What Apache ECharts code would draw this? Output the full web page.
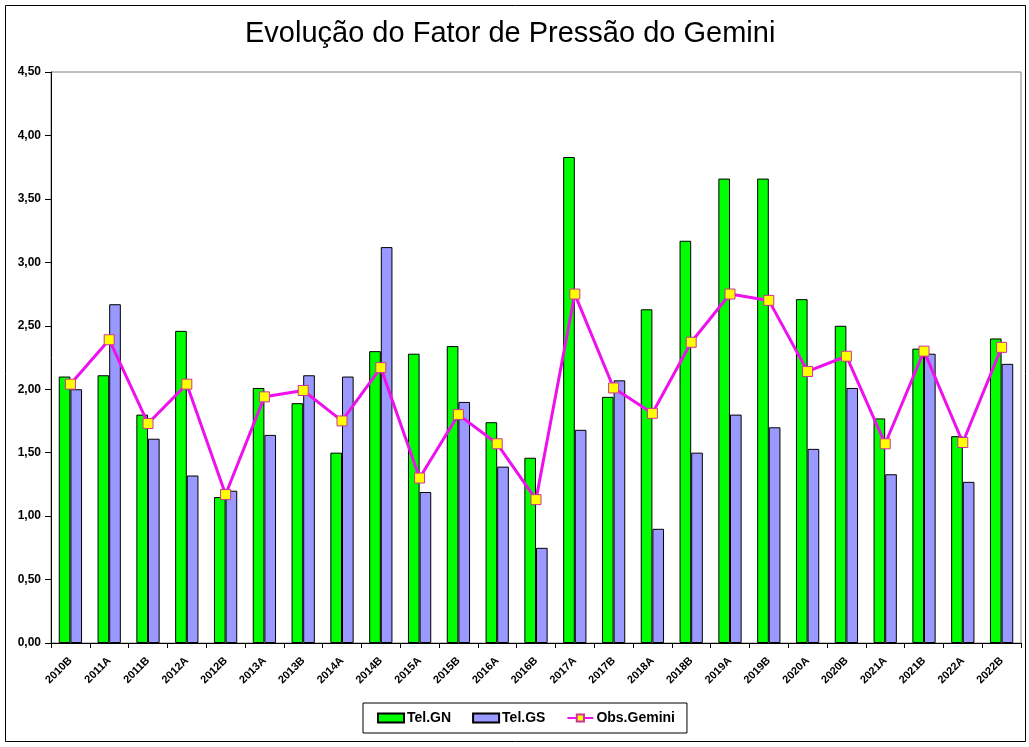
<!DOCTYPE html>
<html>
<head>
<meta charset="utf-8">
<title>Fator de Pressão do Gemini</title>
<script src="https://cdn.jsdelivr.net/npm/echarts@6/dist/echarts.min.js"></script>
<style>
    html, body { margin: 0; padding: 0; background: #fff; }
    #chart { width: 1029px; height: 747px; }
</style>
</head>
<body>
<div id="chart"></div>
<script>
    // semestres
    var semestres = ['2010B', '2011A', '2011B', '2012A', '2012B', '2013A', '2013B', '2014A', '2014B',
        '2015A', '2015B', '2016A', '2016B', '2017A', '2017B', '2018A', '2018B', '2019A', '2019B',
        '2020A', '2020B', '2021A', '2021B', '2022A', '2022B'];
    var telGN = [2.10, 2.11, 1.80, 2.46, 1.15, 2.01, 1.89, 1.50, 2.30,
        2.28, 2.34, 1.74, 1.46, 3.83, 1.94, 2.63, 3.17, 3.66, 3.66,
        2.71, 2.50, 1.77, 2.32, 1.63, 2.40];
    var telGS = [2.00, 2.67, 1.61, 1.32, 1.20, 1.64, 2.11, 2.10, 3.12,
        1.19, 1.90, 1.39, 0.75, 1.68, 2.07, 0.90, 1.50, 1.80, 1.70,
        1.53, 2.01, 1.33, 2.28, 1.27, 2.20];
    var obsGemini = [2.04, 2.39, 1.73, 2.04, 1.17, 1.94, 1.99, 1.75, 2.17,
        1.30, 1.80, 1.57, 1.13, 2.75, 2.01, 1.81, 2.37, 2.75, 2.70,
        2.14, 2.26, 1.57, 2.30, 1.58, 2.33];

    var chart = echarts.init(document.getElementById('chart'));
    var fonte = 'Arial, "Liberation Sans", sans-serif';

    chart.setOption({
        animation: false,
        backgroundColor: '#fff',
        title: {
            text: 'Evolução do Fator de Pressão do Gemini',
            left: 240,
            top: 14,
            textStyle: { fontFamily: fonte, fontSize: 29, fontWeight: 'normal', color: '#000' }
        },
        graphic: [{
            type: 'rect',
            shape: { x: 5.5, y: 5.5, width: 1020, height: 736 },
            style: { fill: 'none', stroke: '#000', lineWidth: 1 },
            silent: true
        }],
        legend: {
            left: 363,
            top: 703,
            padding: [8, 12, 8, 14],
            borderColor: '#000',
            borderWidth: 1,
            itemWidth: 26,
            itemHeight: 9,
            itemGap: 21,
            textStyle: { fontFamily: fonte, fontSize: 14, fontWeight: 'bold', color: '#000', padding: [0, 0, 0, -2] },
            data: [
                { name: 'Tel.GN', icon: 'rect' },
                { name: 'Tel.GS', icon: 'rect' },
                { name: 'Obs.Gemini' }
            ]
        },
        grid: {
            left: 51,
            right: 8,
            top: 72,
            bottom: 104,
            show: true,
            borderColor: '#808080',
            borderWidth: 1
        },
        xAxis: {
            type: 'category',
            data: semestres,
            axisLine: { lineStyle: { color: '#000', width: 1 } },
            axisTick: { show: true, length: 5, lineStyle: { color: '#000' } },
            axisLabel: {
                rotate: 45,
                interval: 0,
                margin: 16,
                color: '#000',
                fontFamily: fonte,
                fontSize: 11,
                fontWeight: 'bold'
            }
        },
        yAxis: {
            type: 'value',
            min: 0,
            max: 4.5,
            interval: 0.5,
            splitLine: { show: false },
            axisLine: { show: true, lineStyle: { color: '#000', width: 1 } },
            axisTick: { show: true, length: 6, lineStyle: { color: '#000' } },
            axisLabel: {
                color: '#000',
                fontFamily: fonte,
                fontSize: 12,
                fontWeight: 'bold',
                margin: 10,
                formatter: function (v) { return v.toFixed(2).replace('.', ','); }
            }
        },
        series: [
            {
                name: 'Tel.GN',
                type: 'bar',
                data: telGN,
                barGap: '0%',
                barCategoryGap: '40%',
                itemStyle: { color: '#00ff00', borderColor: '#000', borderWidth: 1 }
            },
            {
                name: 'Tel.GS',
                type: 'bar',
                data: telGS,
                itemStyle: { color: '#9999ff', borderColor: '#000', borderWidth: 1 }
            },
            {
                name: 'Obs.Gemini',
                type: 'line',
                data: obsGemini,
                symbol: 'rect',
                symbolSize: 10,
                lineStyle: { color: '#ee11ee', width: 3 },
                itemStyle: { color: '#ffff00', borderColor: '#cc3399', borderWidth: 1 },
                z: 5
            }
        ]
    });
</script>
</body>
</html>
